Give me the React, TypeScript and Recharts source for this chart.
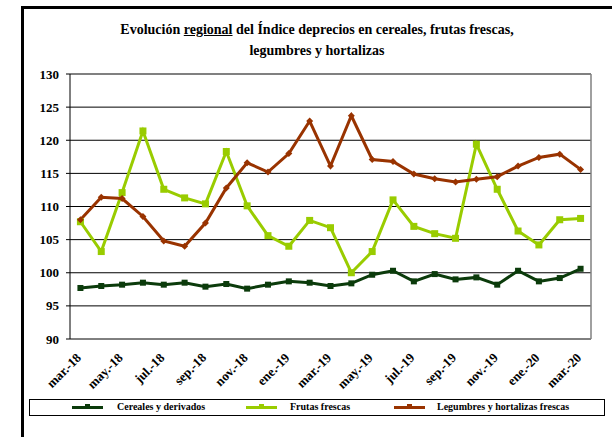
import React from 'react';
import { LineChart, Line, XAxis, YAxis, CartesianGrid, ReferenceLine } from 'recharts';

const months = ['mar.-18','abr.-18','may.-18','jun.-18','jul.-18','ago.-18','sep.-18','oct.-18','nov.-18','dic.-18','ene.-19','feb.-19','mar.-19','abr.-19','may.-19','jun.-19','jul.-19','ago.-19','sep.-19','oct.-19','nov.-19','dic.-19','ene.-20','feb.-20','mar.-20'];
const cereales = [97.7, 98.0, 98.2, 98.5, 98.2, 98.5, 97.9, 98.3, 97.6, 98.2, 98.7, 98.5, 98.0, 98.4, 99.7, 100.3, 98.7, 99.8, 99.0, 99.3, 98.2, 100.3, 98.7, 99.2, 100.6];
const frutas = [107.7, 103.2, 112.1, 121.4, 112.6, 111.3, 110.4, 118.3, 110.1, 105.6, 104.0, 107.9, 106.8, 100.0, 103.2, 111.0, 107.0, 105.9, 105.2, 119.4, 112.6, 106.3, 104.2, 108.0, 108.2];
const legumbres = [108.0, 111.4, 111.2, 108.5, 104.8, 104.0, 107.5, 112.8, 116.6, 115.2, 118.0, 122.9, 116.1, 123.7, 117.1, 116.8, 114.9, 114.2, 113.7, 114.1, 114.5, 116.1, 117.4, 117.9, 115.6];
const yTicks = [90, 95, 100, 105, 110, 115, 120, 125, 130];
const seriesNames = ['Cereales y derivados', 'Frutas frescas', 'Legumbres y hortalizas frescas'];
const colors = ['#0b3b0b', '#99cc00', '#993300'];

const data = months.map((m, i) => ({
  pos: i + 0.5,
  label: m,
  cereales: cereales[i],
  frutas: frutas[i],
  legumbres: legumbres[i],
}));
const boundaryTicks = Array.from({ length: months.length + 1 }, (_, i) => i);
const labelTicks = months.map((_, i) => i + 0.5).filter((_, i) => i % 2 === 0);

const FONT = '"Liberation Serif", "Times New Roman", serif';

const squareDot = (size: number, color: string) => (p: any) => (
  <rect key={`s-${p.index}`} x={p.cx - size / 2} y={p.cy - size / 2} width={size} height={size} fill={color} />
);
const diamondDot = (r: number, color: string) => (p: any) => (
  <polygon key={`d-${p.index}`} points={`${p.cx},${p.cy - r} ${p.cx + r},${p.cy} ${p.cx},${p.cy + r} ${p.cx - r},${p.cy}`} fill={color} />
);

const LegendItem = ({ left, color, text, textLeft }: any) => (
  <>
    <div style={{ position: 'absolute', left, top: 6, width: 31, height: 3, background: color }} />
    <div style={{ position: 'absolute', left: left + 13, top: 4, width: 5, height: 5, background: color }} />
    <div style={{ position: 'absolute', left: textLeft, top: 1, fontFamily: FONT, fontWeight: 'bold', fontSize: 10, whiteSpace: 'nowrap', color: '#000' }}>{text}</div>
  </>
);

export default function App() {
  return (
    <div style={{ position: 'absolute', left: 0, top: 0, width: 612, height: 437, overflow: 'hidden', background: '#fff' }}>
      <div style={{ position: 'absolute', left: 21, top: 6, width: 700, height: 500, borderLeft: '3px solid #000', borderTop: '3px solid #000' }} />
      <div style={{ position: 'absolute', left: 22, top: 19, width: 590, textAlign: 'center', fontFamily: FONT, fontWeight: 'bold', fontSize: 14, lineHeight: '21px', color: '#000' }}>
        Evolución <span style={{ textDecoration: 'underline' }}>regional</span> del Índice deprecios en cereales, frutas frescas,<br />legumbres y hortalizas
      </div>
      <div style={{ position: 'absolute', left: 0, top: 0 }}>
        <LineChart width={612} height={437} data={data} margin={{ top: 74, right: 21, left: 0, bottom: 43 }}>
          <CartesianGrid vertical={false} stroke="#000" strokeWidth={1} />
          <XAxis xAxisId="t" type="number" dataKey="pos" domain={[0, 25]} ticks={boundaryTicks}
            tickFormatter={() => ''} height={0} tickSize={4} stroke="#000" allowDecimals={false} />
          <XAxis xAxisId="l" type="number" dataKey="pos" domain={[0, 25]} ticks={labelTicks}
            axisLine={false} tickLine={false} tickSize={0} tickMargin={6} height={55} interval={0}
            angle={-45} textAnchor="end"
            tickFormatter={(v: number) => months[Math.floor(v)]}
            tick={{ fontFamily: FONT, fontWeight: 'bold', fontSize: 13, fill: '#000', dx: -5, dy: 7 }} />
          <YAxis type="number" domain={[90, 130]} ticks={yTicks} width={70} tickSize={4} tickMargin={7}
            stroke="#000" interval={0}
            tick={{ fontFamily: FONT, fontWeight: 'bold', fontSize: 13, fill: '#000' }} />
          <ReferenceLine xAxisId="t" y={130} stroke="#808080" strokeWidth={1.5} />
          <ReferenceLine xAxisId="t" x={25} stroke="#808080" strokeWidth={1.5} />
          <Line xAxisId="t" dataKey="cereales" name={seriesNames[0]} stroke={colors[0]} strokeWidth={3}
            dot={squareDot(6, colors[0])} isAnimationActive={false} />
          <Line xAxisId="t" dataKey="frutas" name={seriesNames[1]} stroke={colors[1]} strokeWidth={3}
            dot={squareDot(7, colors[1])} isAnimationActive={false} />
          <Line xAxisId="t" dataKey="legumbres" name={seriesNames[2]} stroke={colors[2]} strokeWidth={3}
            dot={diamondDot(3.5, colors[2])} isAnimationActive={false} />
        </LineChart>
      </div>
      <div style={{ position: 'absolute', left: 29, top: 399, width: 574, height: 15, border: '1px solid #000', background: '#fff' }}>
        <LegendItem left={42} color={colors[0]} text={seriesNames[0]} textLeft={87} />
        <LegendItem left={216} color={colors[1]} text={seriesNames[1]} textLeft={260} />
        <LegendItem left={364} color={colors[2]} text={seriesNames[2]} textLeft={407} />
      </div>
    </div>
  );
}
